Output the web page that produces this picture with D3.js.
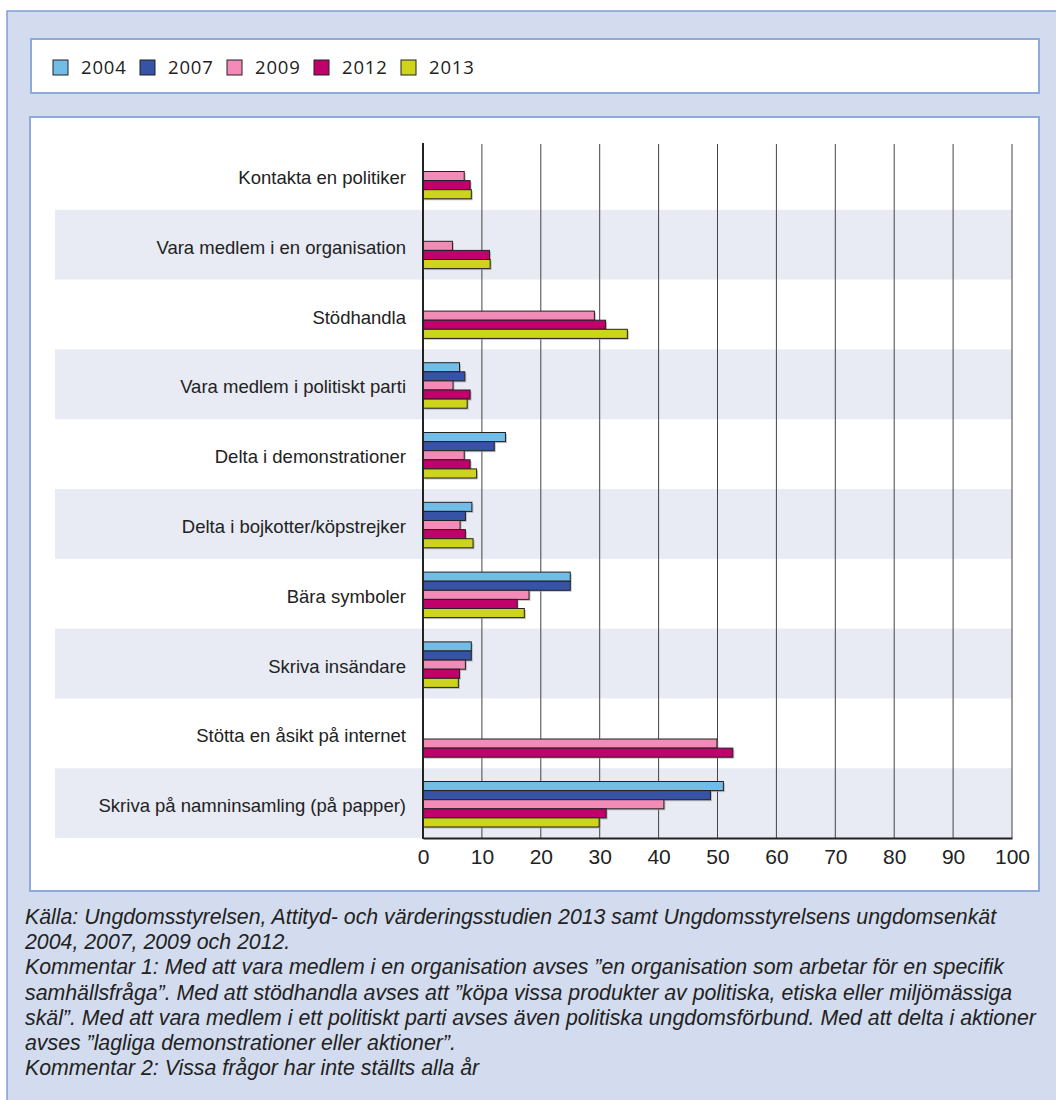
<!DOCTYPE html>
<html>
<head>
<meta charset="utf-8">
<script src="https://cdn.jsdelivr.net/npm/d3@7"></script>
<style>
  body { margin: 0; background: #fff; }
  svg { display: block; }
</style>
</head>
<body>
<svg id="chart"></svg>
<script>
const W = 1056, H = 1100;

// data (percent)
const activities = [
  "Kontakta en politiker",
  "Vara medlem i en organisation",
  "Stödhandla",
  "Vara medlem i politiskt parti",
  "Delta i demonstrationer",
  "Delta i bojkotter/köpstrejker",
  "Bära symboler",
  "Skriva insändare",
  "Stötta en åsikt på internet",
  "Skriva på namninsamling (på papper)"
];
const years = ["2004", "2007", "2009", "2012", "2013"];
const v2004 = [null, null, null, 6.2, 14.0, 8.3, 25.0, 8.2, null, 51.0];
const v2007 = [null, null, null, 7.1, 12.1, 7.2, 25.0, 8.2, null, 48.8];
const v2009 = [7.0, 5.0, 29.1, 5.1, 7.0, 6.3, 18.0, 7.2, 49.9, 40.9];
const v2012 = [8.0, 11.3, 31.0, 8.0, 8.0, 7.2, 16.0, 6.2, 52.6, 31.1];
const v2013 = [8.2, 11.4, 34.7, 7.5, 9.1, 8.5, 17.2, 6.0, null, 29.9];
const xTicks = [0, 10, 20, 30, 40, 50, 60, 70, 80, 90, 100];
const notes = [
  "Källa: Ungdomsstyrelsen, Attityd- och värderingsstudien 2013 samt Ungdomsstyrelsens ungdomsenkät",
  "2004, 2007, 2009 och 2012.",
  "Kommentar 1: Med att vara medlem i en organisation avses ”en organisation som arbetar för en specifik",
  "samhällsfråga”. Med att stödhandla avses att ”köpa vissa produkter av politiska, etiska eller miljömässiga",
  "skäl”. Med att vara medlem i ett politiskt parti avses även politiska ungdomsförbund. Med att delta i aktioner",
  "avses ”lagliga demonstrationer eller aktioner”.",
  "Kommentar 2: Vissa frågor har inte ställts alla år"
];

const series = [v2004, v2007, v2009, v2012, v2013];
const colors = ["#72bde8", "#3753a5", "#f38bb9", "#c0006b", "#ced41b"];

const svg = d3.select("#chart").attr("width", W).attr("height", H);

// outer panel + boxes
svg.append("rect").attr("x", 7).attr("y", 11).attr("width", 1070).attr("height", 1110)
  .attr("fill", "#d3dcee").attr("stroke", "#7f9fd3").attr("stroke-width", 1.5);
svg.append("rect").attr("x", 31).attr("y", 39).attr("width", 1008).attr("height", 54)
  .attr("fill", "#fff").attr("stroke", "#8eaad8").attr("stroke-width", 2);
svg.append("rect").attr("x", 30).attr("y", 117).attr("width", 1009).attr("height", 774)
  .attr("fill", "#fff").attr("stroke", "#8eaad8").attr("stroke-width", 2);

// legend
const leg = svg.append("g").selectAll("g").data(years).join("g")
  .attr("transform", (d, i) => `translate(${53 + i * 87},60)`);
leg.append("rect").attr("width", 15).attr("height", 15)
  .attr("fill", (d, i) => colors[i]).attr("stroke", "#222").attr("stroke-width", 1);
leg.append("text").attr("x", 28).attr("y", 14).text(d => d)
  .attr("font-family", "'Open Sans', sans-serif").attr("font-size", 18.5)
  .attr("letter-spacing", 0.8).attr("fill", "#222");

// scales
const x = d3.scaleLinear().domain([0, 100]).range([423, 1012]);
const y = d3.scaleBand().domain(activities).range([140, 838]).padding(0);

// alternating bands
svg.append("g").selectAll("rect").data(activities.filter((d, i) => i % 2 === 1)).join("rect")
  .attr("x", 55).attr("width", 1012 - 55)
  .attr("y", d => y(d)).attr("height", y.bandwidth())
  .attr("fill", "#e8ebf4");

// grid
svg.append("g").selectAll("line").data(xTicks.slice(1)).join("line")
  .attr("x1", d => x(d)).attr("x2", d => x(d))
  .attr("y1", 144).attr("y2", 838)
  .attr("stroke", "#444").attr("stroke-width", 1);

// bars: present values stacked so the last one sits just above row bottom
const barH = 9.1, gapBottom = 11;
const bars = [];
activities.forEach((a, r) => {
  const present = series.map((s, k) => ({ k, v: s[r] })).filter(d => d.v != null);
  const n = present.length;
  present.forEach((d, j) => {
    bars.push({ a, k: d.k, v: d.v, yy: y(a) + y.bandwidth() - gapBottom - (n - j) * barH });
  });
});
const gb = svg.append("g");
gb.selectAll("rect.sh").data(bars).join("rect").attr("class", "sh")
  .attr("x", x(0) + 1.5).attr("y", d => d.yy + 1.5)
  .attr("width", d => x(d.v) - x(0)).attr("height", barH)
  .attr("fill", "#999").attr("opacity", 0.6);
gb.selectAll("rect.bar").data(bars).join("rect").attr("class", "bar")
  .attr("x", x(0)).attr("y", d => d.yy)
  .attr("width", d => x(d.v) - x(0)).attr("height", barH)
  .attr("fill", d => colors[d.k]).attr("stroke", "#222").attr("stroke-width", 1);

// axes
const xAxis = svg.append("g").attr("transform", "translate(0,838)")
  .call(d3.axisBottom(x).tickValues(xTicks).tickSize(0).tickPadding(11));
xAxis.select(".domain").attr("stroke", "#222").attr("stroke-width", 2);
xAxis.selectAll("text").attr("font-family", "'Liberation Sans', Arial, sans-serif")
  .attr("font-size", 21).attr("fill", "#222");

svg.append("line").attr("x1", x(0)).attr("x2", x(0)).attr("y1", 143).attr("y2", 839)
  .attr("stroke", "#222").attr("stroke-width", 2);

svg.append("g").selectAll("text").data(activities).join("text")
  .attr("x", 406).attr("y", d => y(d) + y.bandwidth() / 2 + 9)
  .attr("text-anchor", "end").text(d => d)
  .attr("font-family", "'Liberation Sans', Arial, sans-serif")
  .attr("font-size", 18.5).attr("fill", "#222");

// notes
svg.append("g").selectAll("text").data(notes).join("text")
  .attr("x", 25).attr("y", (d, i) => 924 + i * 25.2).text(d => d)
  .attr("font-family", "'Liberation Sans', Arial, sans-serif")
  .attr("font-style", "italic").attr("font-size", 21.3).attr("fill", "#222");
</script>
</body>
</html>
